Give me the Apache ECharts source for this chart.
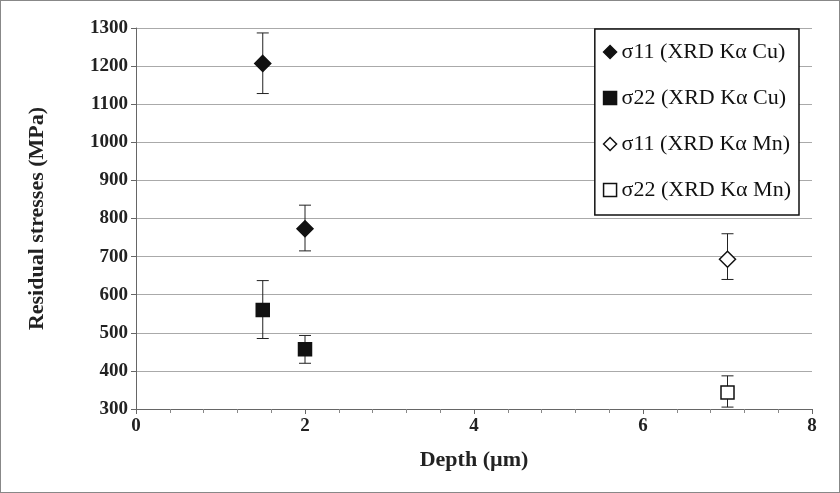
<!DOCTYPE html>
<html><head><meta charset="utf-8">
<script src="https://cdn.jsdelivr.net/npm/echarts@6/dist/echarts.min.js"></script>
<style>html,body{margin:0;padding:0;background:#fff}#c{width:840px;height:493px;box-sizing:border-box;border:1px solid #888}</style>
</head><body><div id="c"></div>
<script>
const seriesNames = ['σ11 (XRD Kα Cu)', 'σ22 (XRD Kα Cu)', 'σ11 (XRD Kα Mn)', 'σ22 (XRD Kα Mn)'];
const symbols = ['diamond', 'rect', 'diamond', 'rect'];
const depth = [[1.5, 2], [1.5, 2], [7], [7]];
const stress = [[1207, 773], [560, 457], [693], [343]];
const errLow = [[1128, 715], [485, 420], [640], [305]];
const errHigh = [[1287, 835], [637, 493], [760], [387]];

const font = 'Liberation Serif';
const chart = echarts.init(document.getElementById('c'));
const series = [];
seriesNames.forEach((n, i) => {
  series.push({
    name: n + ' err', type: 'custom', silent: true, z: 1,
    data: depth[i].map((d, j) => [d, errLow[i][j], errHigh[i][j]]),
    renderItem: (p, api) => {
      const lo = api.coord([api.value(0), api.value(1)]);
      const hi = api.coord([api.value(0), api.value(2)]);
      const w = 6, st = { stroke: '#222', lineWidth: 1 };
      return { type: 'group', children: [
        { type: 'line', shape: { x1: lo[0], y1: lo[1], x2: hi[0], y2: hi[1] }, style: st },
        { type: 'line', shape: { x1: lo[0] - w, y1: lo[1], x2: lo[0] + w, y2: lo[1] }, style: st },
        { type: 'line', shape: { x1: hi[0] - w, y1: hi[1], x2: hi[0] + w, y2: hi[1] }, style: st }
      ] };
    }
  });
  series.push({
    name: n, type: 'scatter', z: 3, symbol: symbols[i],
    symbolSize: i % 2 ? 13 : 16,
    itemStyle: { color: i < 2 ? '#111' : '#fff', borderColor: '#111', borderWidth: 1.5, opacity: 1 },
    data: depth[i].map((d, j) => [d, stress[i][j]])
  });
});

chart.setOption({
  animation: false,
  grid: { left: 135, right: 27, top: 27, bottom: 83 },
  legend: {
    data: seriesNames.map((n, i) => ({ name: n, icon: ['path://M0,10L10,0L20,10L10,20Z', 'rect', 'path://M0,10L10,0L20,10L10,20Z', 'rect'][i],
      itemStyle: { color: i < 2 ? '#111' : '#fff', borderColor: '#111', borderWidth: 1.5, opacity: 1 } })),
    orient: 'vertical', right: 40, top: 28, itemGap: 24, itemWidth: 13, itemHeight: 13,
    backgroundColor: '#fff', borderColor: '#111', borderWidth: 1.5, padding: [12, 8, 14, 8],
    textStyle: { fontFamily: font, fontSize: 22, color: '#111' }
  },
  xAxis: {
    type: 'value', min: 0, max: 8, interval: 2,
    name: 'Depth (µm)', nameLocation: 'middle', nameGap: 40,
    nameTextStyle: { fontFamily: font, fontSize: 22, fontWeight: 'bold', color: '#222' },
    axisLine: { lineStyle: { color: '#666' } },
    axisTick: { show: true, length: 5, lineStyle: { color: '#666' } },
    minorTick: { show: true, splitNumber: 5, length: 4, lineStyle: { color: '#888' } },
    splitLine: { show: false },
    axisLabel: { fontFamily: font, fontSize: 19, fontWeight: 'bold', color: '#222' }
  },
  yAxis: {
    type: 'value', min: 300, max: 1300, interval: 100,
    name: 'Residual stresses (MPa)', nameLocation: 'middle', nameGap: 88,
    nameTextStyle: { fontFamily: font, fontSize: 22, fontWeight: 'bold', color: '#222' },
    axisLine: { show: true, lineStyle: { color: '#666' } },
    axisTick: { show: true, length: 5, lineStyle: { color: '#666' } },
    splitLine: { lineStyle: { color: '#aaa' } },
    axisLabel: { fontFamily: font, fontSize: 19, fontWeight: 'bold', color: '#222', formatter: v => String(v) }
  },
  series: series
});
</script></body></html>
